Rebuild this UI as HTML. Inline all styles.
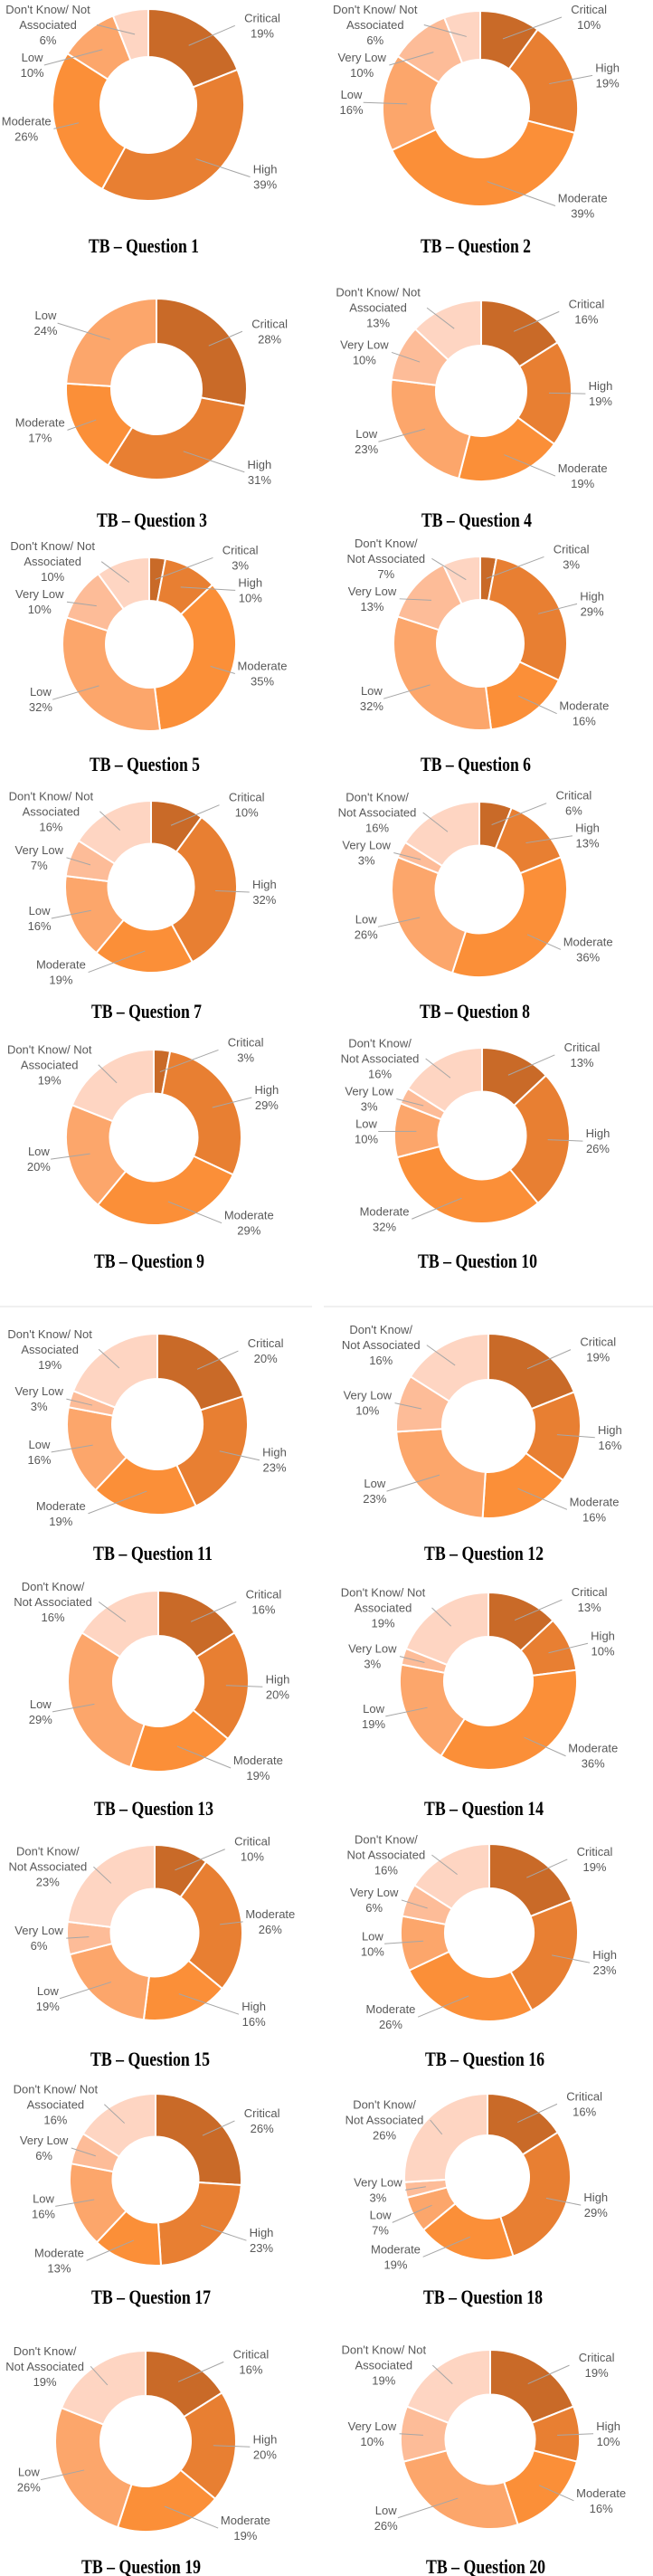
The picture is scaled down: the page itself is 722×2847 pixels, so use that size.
<!DOCTYPE html>
<html><head><meta charset="utf-8">
<style>
html,body{margin:0;padding:0;background:#fff;}
svg{display:block;}
.lbl{font-family:"Liberation Sans",sans-serif;font-size:13px;fill:#595959;}
.ttl{font-family:"Liberation Serif",serif;font-size:22px;font-weight:bold;fill:#000;}
</style></head>
<body>
<svg id="root" width="722" height="2847" viewBox="0 0 722 2847" xmlns="http://www.w3.org/2000/svg">
<rect x="0" y="0" width="722" height="2847" fill="#fff"/>
<line x1="0" y1="1444" x2="345" y2="1444" stroke="#e2e2e2" stroke-width="1"/>
<line x1="358" y1="1444" x2="722" y2="1444" stroke="#e2e2e2" stroke-width="1"/>
</svg>
<script>
const chartTitles = ["TB – Question 1","TB – Question 2","TB – Question 3","TB – Question 4","TB – Question 5","TB – Question 6","TB – Question 7","TB – Question 8","TB – Question 9","TB – Question 10","TB – Question 11","TB – Question 12","TB – Question 13","TB – Question 14","TB – Question 15","TB – Question 16","TB – Question 17","TB – Question 18","TB – Question 19","TB – Question 20"];
const categoryOrder = ["Critical","High","Moderate","Low","Very Low","DK"];
const chartCategories = [
 ["Critical","High","Moderate","Low","DK"],
 ["Critical","High","Moderate","Low","Very Low","DK"],
 ["Critical","High","Moderate","Low"],
 ["Critical","High","Moderate","Low","Very Low","DK"],
 ["Critical","High","Moderate","Low","Very Low","DK"],
 ["Critical","High","Moderate","Low","Very Low","DK"],
 ["Critical","High","Moderate","Low","Very Low","DK"],
 ["Critical","High","Moderate","Low","Very Low","DK"],
 ["Critical","High","Moderate","Low","DK"],
 ["Critical","High","Moderate","Low","Very Low","DK"],
 ["Critical","High","Moderate","Low","Very Low","DK"],
 ["Critical","High","Moderate","Low","Very Low","DK"],
 ["Critical","High","Moderate","Low","DK"],
 ["Critical","High","Moderate","Low","Very Low","DK"],
 ["Critical","Moderate","High","Low","Very Low","DK"],
 ["Critical","High","Moderate","Low","Very Low","DK"],
 ["Critical","High","Moderate","Low","Very Low","DK"],
 ["Critical","High","Moderate","Low","Very Low","DK"],
 ["Critical","High","Moderate","Low","DK"],
 ["Critical","High","Moderate","Low","Very Low","DK"]
];
const chartValues = [
 [19,39,26,10,6],
 [10,19,39,16,10,6],
 [28,31,17,24],
 [16,19,19,23,10,13],
 [3,10,35,32,10,10],
 [3,29,16,32,13,7],
 [10,32,19,16,7,16],
 [6,13,36,26,3,16],
 [3,29,29,20,19],
 [13,26,32,10,3,16],
 [20,23,19,16,3,19],
 [19,16,16,23,10,16],
 [16,20,19,29,16],
 [13,10,36,19,3,19],
 [10,26,16,19,6,23],
 [19,23,26,10,6,16],
 [26,23,13,16,6,16],
 [16,29,19,7,3,26],
 [16,20,19,26,19],
 [19,10,16,26,10,19]
];
// DK label wrap style: 0 = "Don't Know/ Not | Associated", 1 = "Don't Know/ | Not Associated"
const dkWrapStyle = [0,0,0,0,0,1,0,1,0,1,0,1,1,0,1,1,0,1,1,0];

// layout (not data)
const layout = [
 [164,116,106,272],[531,120,108,272],
 [173,430,100,575],[532,432,100,575],
 [165,712,96,845],[531,711,96,845],
 [167,980,95,1118],[530,983,97,1118],
 [170,1257,97,1394],[533,1255,97,1394],
 [174,1574,100,1717],[540,1576,102,1717],
 [175,1858,100,1999],[540,1858,98,1999],
 [171,2136,97,2276],[541,2136,98,2276],
 [172,2409,95,2539],[539,2406,92,2539],
 [161,2698,100,2837],[542,2696,99,2837]
];
const palette = ["#C96A28","#E87F32","#FB8F38","#FCA66B","#FDBC98","#FED5C2"];
const NS = "http://www.w3.org/2000/svg";
const root = document.getElementById("root");

function mk(tag, attrs, parent){
  const e = document.createElementNS(NS, tag);
  for (const k in attrs) e.setAttribute(k, attrs[k]);
  parent.appendChild(e);
  return e;
}
function pt(cx, cy, r, a){ return [cx + r*Math.sin(a), cy - r*Math.cos(a)]; }
function arcPath(cx, cy, r0, r1, a0, a1){
  const large = (a1 - a0) > Math.PI ? 1 : 0;
  const p0 = pt(cx,cy,r1,a0), p1 = pt(cx,cy,r1,a1), q1 = pt(cx,cy,r0,a1), q0 = pt(cx,cy,r0,a0);
  return `M${p0[0]},${p0[1]} A${r1},${r1} 0 ${large} 1 ${p1[0]},${p1[1]} L${q1[0]},${q1[1]} A${r0},${r0} 0 ${large} 0 ${q0[0]},${q0[1]} Z`;
}

chartTitles.forEach((title, ci) => {
  const [cx, cy, r, ty] = layout[ci];
  const cats = chartCategories[ci];
  const vals = chartValues[ci];
  const total = vals.reduce((s,v)=>s+v,0);
  const g = mk("g", {}, root);
  
  
  const ranks = cats.map(c => categoryOrder.indexOf(c)).sort((a,b)=>a-b);
  let acc = 0;
  const labels = [];
  cats.forEach((cat, j) => {
    const a0 = acc / total * 2*Math.PI;
    acc += vals[j];
    const a1 = acc / total * 2*Math.PI;
    const p = mk("path", {d: arcPath(cx, cy, r*0.5, r, a0, a1), fill: palette[ranks[j]], stroke:"#fff", "stroke-width":"2"}, g);
    
    
    const am = (a0 + a1)/2;
    const s = Math.sin(am), c = Math.cos(am);
    const side = s >= 0 ? 1 : -1;
    let lines;
    if (cat === "DK") lines = dkWrapStyle[ci] === 0 ? ["Don't Know/ Not","Associated"] : ["Don't Know/","Not Associated"];
    else lines = [cat];
    lines = lines.concat([vals[j] + "%"]);
    const maxLen = Math.max(...lines.map(l=>l.length));
    let lx = cx + side*r*(1.02 + 0.3*Math.abs(s));
    const hw = maxLen*3.4;
    lx = Math.max(hw + 2, Math.min(720 - hw, lx));
    const h = lines.length*17;
    let ly = cy - c*r;
    ly = Math.max(ly, h/2 + 2);
    labels.push({cat, lines, side, lx, ly, h, hw, am, s, c});
  });
  [1,-1].forEach(side => {
    const L = labels.filter(l=>l.side===side).sort((a,b)=>a.ly-b.ly);
    for (let k=1;k<L.length;k++){
      const min = L[k-1].ly + (L[k-1].h + L[k].h)/2 + 2;
      if (L[k].ly < min) L[k].ly = min;
    }
  });
  labels.forEach(l => {
    const p0 = [cx + l.s*0.75*r, cy - l.c*0.75*r];
    const ex = l.lx - l.side*(l.hw + 3);
    const ln = mk("polyline", {points: `${p0[0]},${p0[1]} ${ex},${l.ly}`, fill:"none", stroke:"#a6a6a6", "stroke-width":"1"}, g);
    
    
    const t = mk("text", {class:"lbl", x: l.lx, y: l.ly - l.h/2 + 13, "text-anchor":"middle"}, g);
    
    
    l.lines.forEach((line, k) => {
      const ts = mk("tspan", {x: l.lx, dy: k===0 ? 0 : 17}, t);
      ts.textContent = line;
    });
  });
  const tl = mk("text", {class:"ttl", x: cx - 5, y: ty + 7, "text-anchor":"middle", textLength: ci >= 9 ? 132 : 122, lengthAdjust:"spacingAndGlyphs"}, g);
  
  
  tl.textContent = title;
});
</script>
</body></html>
